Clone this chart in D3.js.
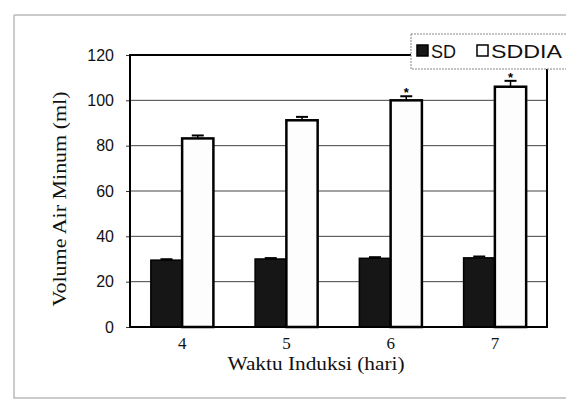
<!DOCTYPE html>
<html><head><meta charset="utf-8">
<script src="https://cdn.jsdelivr.net/npm/d3@7"></script>
<style>body{margin:0;background:#fff}svg{display:block}</style>
</head><body>
<svg id="c" width="566" height="404"></svg>
<script>
const categories = ["4", "5", "6", "7"];
const seriesNames = ["SD", "SDDIA"];
const sdValues = [29.5, 30.0, 30.3, 30.5];
const sdErrors = [0.4, 0.4, 0.5, 0.6];
const sddiaValues = [83.2, 91.2, 100.0, 106.0];
const sddiaErrors = [1.3, 1.5, 1.8, 2.6];
const sddiaMarks = ["", "", "*", "*"];
const yTicks = [0, 20, 40, 60, 80, 100, 120];

const svg = d3.select("#c");
const L = 130, R = 547, T = 55, B = 327;

// page border
svg.append("path").attr("d", "M14,15 H566 M14,15 V398 H566")
  .attr("fill", "none").attr("stroke", "#bbb").attr("stroke-width", 1.5);

const x0 = d3.scaleBand().domain(categories).range([L, R]).paddingInner(0.4).paddingOuter(0.2);
const x1 = d3.scaleBand().domain(seriesNames).range([0, x0.bandwidth()]);
const y = d3.scaleLinear().domain([0, 120]).range([B, T]);

// gridlines
svg.append("g").selectAll("line").data(yTicks.filter(t => t > 0 && t < 120)).join("line")
  .attr("x1", L).attr("x2", R).attr("y1", d => y(d)).attr("y2", d => y(d))
  .attr("stroke", "#444").attr("stroke-width", 1);

// y axis
const yAxis = svg.append("g").attr("transform", `translate(${L},0)`)
  .call(d3.axisLeft(y).tickValues(yTicks).tickSize(4).tickPadding(12));
yAxis.select(".domain").remove();
yAxis.selectAll("line").attr("stroke", "#333");
yAxis.selectAll("text").attr("font-family", "Liberation Sans, Arial, sans-serif")
  .attr("font-size", 16).attr("fill", "#111");

// x axis labels
const xAxis = svg.append("g").attr("transform", `translate(0,${B})`)
  .call(d3.axisBottom(x0).tickSize(0).tickPadding(10));
xAxis.select(".domain").remove();
xAxis.selectAll("text").attr("font-family", "Liberation Serif, Times New Roman, serif")
  .attr("font-size", 17).attr("fill", "#111");

const rows = categories.map((c, i) => ({c, i}));

// SD bars
svg.append("g").selectAll("rect").data(rows).join("rect")
  .attr("x", d => x0(d.c) + x1("SD")).attr("width", x1.bandwidth())
  .attr("y", d => y(sdValues[d.i])).attr("height", d => y(0) - y(sdValues[d.i]))
  .attr("fill", "#161616").attr("stroke", "#000").attr("stroke-width", 1.5);
// SDDIA bars
svg.append("g").selectAll("rect").data(rows).join("rect")
  .attr("x", d => x0(d.c) + x1("SDDIA")).attr("width", x1.bandwidth())
  .attr("y", d => y(sddiaValues[d.i])).attr("height", d => y(0) - y(sddiaValues[d.i]))
  .attr("fill", "#fdfdfd").attr("stroke", "#000").attr("stroke-width", 2.5);

// error bars
function errBars(vals, errs, key) {
  const g = svg.append("g");
  rows.forEach(d => {
    const cx = x0(d.c) + x1(key) + x1.bandwidth() / 2;
    g.append("line").attr("x1", cx).attr("x2", cx)
      .attr("y1", y(vals[d.i])).attr("y2", y(vals[d.i] + errs[d.i]))
      .attr("stroke", "#000").attr("stroke-width", 1.5);
    g.append("line").attr("x1", cx - 6).attr("x2", cx + 6)
      .attr("y1", y(vals[d.i] + errs[d.i])).attr("y2", y(vals[d.i] + errs[d.i]))
      .attr("stroke", "#000").attr("stroke-width", 2);
  });
}
errBars(sdValues, sdErrors, "SD");
errBars(sddiaValues, sddiaErrors, "SDDIA");

// significance marks
svg.append("g").selectAll("text").data(rows.filter(d => sddiaMarks[d.i])).join("text")
  .attr("x", d => x0(d.c) + x1("SDDIA") + x1.bandwidth() / 2)
  .attr("y", d => y(sddiaValues[d.i] + sddiaErrors[d.i]) + 1)
  .attr("text-anchor", "middle").attr("font-family", "Liberation Sans, Arial, sans-serif")
  .attr("font-size", 13).attr("font-weight", "bold").text(d => sddiaMarks[d.i]);

// frame
svg.append("rect").attr("x", L).attr("y", T).attr("width", R - L).attr("height", B - T)
  .attr("fill", "none").attr("stroke", "#000").attr("stroke-width", 2);

// axis titles
svg.append("text").attr("transform", `translate(66,199) rotate(-90)`)
  .attr("text-anchor", "middle").attr("font-family", "Liberation Serif, Times New Roman, serif")
  .attr("font-size", 18).attr("fill", "#111")
  .attr("textLength", 215).attr("lengthAdjust", "spacingAndGlyphs").text("Volume Air Minum (ml)");
svg.append("text").attr("x", 316).attr("y", 370)
  .attr("text-anchor", "middle").attr("font-family", "Liberation Serif, Times New Roman, serif")
  .attr("font-size", 18).attr("fill", "#111")
  .attr("textLength", 177).attr("lengthAdjust", "spacingAndGlyphs").text("Waktu Induksi (hari)");

// legend
const lg = svg.append("g");
lg.append("rect").attr("x", 411).attr("y", 34).attr("width", 170).attr("height", 35)
  .attr("fill", "#fff").attr("stroke", "#888").attr("stroke-width", 1).attr("stroke-dasharray", "2,1");
const legendX = [417, 477];
const legendLen = [25, 71];
seriesNames.forEach((s, i) => {
  lg.append("rect").attr("x", legendX[i]).attr("y", 45).attr("width", 11).attr("height", 11)
    .attr("fill", i === 0 ? "#161616" : "#fff").attr("stroke", "#000").attr("stroke-width", 1.5);
  lg.append("text").attr("x", legendX[i] + 14).attr("y", 58)
    .attr("font-family", "Liberation Sans, Arial, sans-serif").attr("font-size", 18)
    .attr("fill", "#111").attr("textLength", legendLen[i]).attr("lengthAdjust", "spacingAndGlyphs").text(s);
});
</script>
</body></html>
